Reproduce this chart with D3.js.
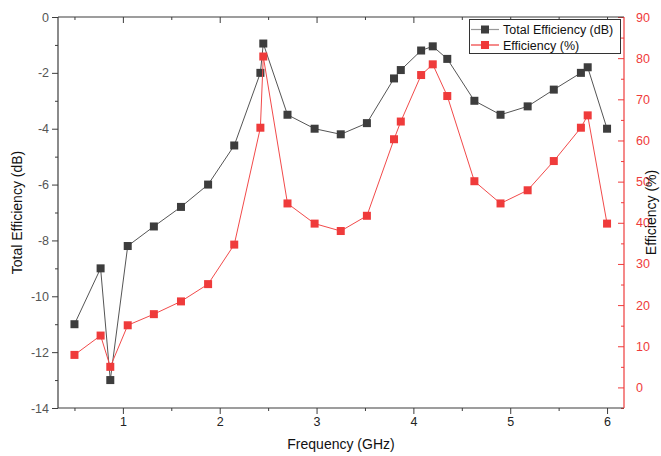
<!DOCTYPE html>
<html>
<head>
<meta charset="utf-8">
<script src="https://cdn.jsdelivr.net/npm/d3@7/dist/d3.min.js"></script>
<style>
  body { margin: 0; background: #fff; }
  svg { font-family: "Liberation Sans", Arial, sans-serif; display: block; }
</style>
</head>
<body>
<div id="container"></div>
<script>
// frequency points (GHz)
const freq = [0.5, 0.77, 0.87, 1.05, 1.32, 1.6, 1.88, 2.15, 2.42, 2.45, 2.7, 2.98, 3.25,
  3.52, 3.8, 3.87, 4.08, 4.2, 4.35, 4.63, 4.9, 5.18, 5.45, 5.73, 5.8, 6.0]
// total efficiency (dB)
const totalDb = [-11, -9, -13, -8.2, -7.5, -6.8, -6.0, -4.6, -2.0, -0.95, -3.5, -4.0, -4.2,
  -3.8, -2.2, -1.9, -1.2, -1.05, -1.5, -3.0, -3.5, -3.2, -2.6, -2.0, -1.8, -4.0]
// efficiency (%)
const effPct = [7.9, 12.6, 5.0, 15.1, 17.8, 20.9, 25.1, 34.7, 63.1, 80.4, 44.7, 39.8, 38.0,
  41.7, 60.3, 64.6, 75.9, 78.5, 70.8, 50.1, 44.7, 47.9, 55.0, 63.1, 66.1, 39.8]

const xTicks = [1, 2, 3, 4, 5, 6]
const xMinor = [0.5, 1.5, 2.5, 3.5, 4.5, 5.5]
const leftTicks = [0, -2, -4, -6, -8, -10, -12, -14]
const leftMinor = [-1, -3, -5, -7, -9, -11, -13]
const rightTicks = [0, 10, 20, 30, 40, 50, 60, 70, 80, 90]
const rightMinor = [-5, 5, 15, 25, 35, 45, 55, 65, 75, 85]

const width = 661
const height = 456
const margin = { top: 17, right: 37, bottom: 48, left: 58 }
const black = '#3d3d3d'
const red = '#ef3b3b'

const svg = d3.select('#container').append('svg')
  .attr('width', width).attr('height', height)

const xScale = d3.scaleLinear()
  .domain([0.33, 6.175])
  .range([margin.left, width - margin.right])

const yLeft = d3.scaleLinear()
  .domain([-14, 0])
  .range([height - margin.bottom, margin.top])

const yRight = d3.scaleLinear()
  .domain([-5, 90])
  .range([height - margin.bottom, margin.top])

const x0 = margin.left, x1 = width - margin.right
const y0 = margin.top, y1 = height - margin.bottom

// bottom axis
const gBottom = svg.append('g').attr('transform', `translate(0, ${y1})`)
gBottom.call(d3.axisBottom(xScale).tickValues(xTicks).tickSize(6).tickSizeOuter(0).tickFormat(d3.format('d')))
gBottom.append('g').call(d3.axisBottom(xScale).tickValues(xMinor).tickSize(3).tickFormat(''))
// top mirror, ticks inward
const gTop = svg.append('g').attr('transform', `translate(0, ${y0})`)
gTop.call(d3.axisBottom(xScale).tickValues(xTicks).tickSize(6).tickSizeOuter(0).tickFormat(''))
gTop.append('g').call(d3.axisBottom(xScale).tickValues(xMinor).tickSize(3).tickFormat(''))

// left axis
const gLeft = svg.append('g').attr('transform', `translate(${x0}, 0)`)
gLeft.call(d3.axisLeft(yLeft).tickValues(leftTicks).tickSize(6).tickSizeOuter(0)
  .tickFormat(d => d))
gLeft.append('g').call(d3.axisLeft(yLeft).tickValues(leftMinor).tickSize(3).tickFormat(''))

// right axis, red, ticks inward
const gRight = svg.append('g').attr('transform', `translate(${x1}, 0)`)
gRight.call(d3.axisRight(yRight).tickValues(rightTicks).tickSize(-6).tickPadding(12).tickSizeOuter(0))
gRight.append('g').call(d3.axisRight(yRight).tickValues(rightMinor).tickSize(-3).tickFormat(''))

svg.selectAll('.domain').remove()
svg.selectAll('.tick text').attr('font-size', 12.5).attr('font-family', '"Liberation Sans", Arial, sans-serif')
gBottom.selectAll('.tick text').attr('fill', '#222')
gLeft.selectAll('.tick text').attr('fill', '#555')
gBottom.selectAll('line').attr('stroke', black)
gTop.selectAll('line').attr('stroke', black)
gLeft.selectAll('line').attr('stroke', black)
gRight.selectAll('line').attr('stroke', red)
gRight.selectAll('.tick text').attr('fill', red)

// frame
svg.append('line').attr('x1', x0).attr('x2', x1).attr('y1', y1).attr('y2', y1).attr('stroke', black).attr('stroke-width', 1.2)
svg.append('line').attr('x1', x0).attr('x2', x1).attr('y1', y0).attr('y2', y0).attr('stroke', black).attr('stroke-width', 1.2)
svg.append('line').attr('x1', x0).attr('x2', x0).attr('y1', y0).attr('y2', y1).attr('stroke', black).attr('stroke-width', 1.2)
svg.append('line').attr('x1', x1).attr('x2', x1).attr('y1', y0).attr('y2', y1).attr('stroke', red).attr('stroke-width', 1.2)

// series
const dbData = freq.map((f, i) => [f, totalDb[i]])
const pctData = freq.map((f, i) => [f, effPct[i]])
const ms = 8

svg.append('path').datum(dbData)
  .attr('fill', 'none').attr('stroke', '#555').attr('stroke-width', 1)
  .attr('d', d3.line().x(d => xScale(d[0])).y(d => yLeft(d[1])))
svg.append('g').selectAll('rect').data(dbData).enter().append('rect')
  .attr('x', d => xScale(d[0]) - ms / 2)
  .attr('y', d => yLeft(d[1]) - ms / 2)
  .attr('width', ms).attr('height', ms)
  .attr('fill', black)

svg.append('path').datum(pctData)
  .attr('fill', 'none').attr('stroke', '#f24a4a').attr('stroke-width', 1)
  .attr('d', d3.line().x(d => xScale(d[0])).y(d => yRight(d[1])))
svg.append('g').selectAll('rect').data(pctData).enter().append('rect')
  .attr('x', d => xScale(d[0]) - ms / 2)
  .attr('y', d => yRight(d[1]) - ms / 2)
  .attr('width', ms).attr('height', ms)
  .attr('fill', red)

// axis titles
svg.append('text').attr('x', (x0 + x1) / 2).attr('y', 449)
  .attr('text-anchor', 'middle').attr('font-size', 14).attr('fill', '#111')
  .text('Frequency (GHz)')
svg.append('text').attr('transform', `translate(22, ${(y0 + y1) / 2}) rotate(-90)`)
  .attr('text-anchor', 'middle').attr('font-size', 14).attr('fill', '#111')
  .text('Total Efficiency (dB)')
svg.append('text').attr('transform', `translate(656, ${(y0 + y1) / 2}) rotate(-90)`)
  .attr('text-anchor', 'middle').attr('font-size', 14).attr('fill', '#111')
  .text('Efficiency (%)')

// legend
const legend = svg.append('g')
legend.append('rect').attr('x', 469.5).attr('y', 19.5).attr('width', 151).attr('height', 34)
  .attr('fill', '#fff').attr('stroke', '#333').attr('stroke-width', 1)
const items = [
  { label: 'Total Efficiency (dB)', line: '#999', mark: black, y: 29.5 },
  { label: 'Efficiency (%)', line: red, mark: red, y: 45 }
]
items.forEach(it => {
  legend.append('line').attr('x1', 471).attr('x2', 499).attr('y1', it.y).attr('y2', it.y)
    .attr('stroke', it.line).attr('stroke-width', 1.2)
  legend.append('rect').attr('x', 485 - ms / 2).attr('y', it.y - ms / 2)
    .attr('width', ms).attr('height', ms).attr('fill', it.mark)
  legend.append('text').attr('x', 503).attr('y', it.y + 4.5)
    .attr('font-size', 12.5).attr('fill', '#111').text(it.label)
})
</script>
</body>
</html>
